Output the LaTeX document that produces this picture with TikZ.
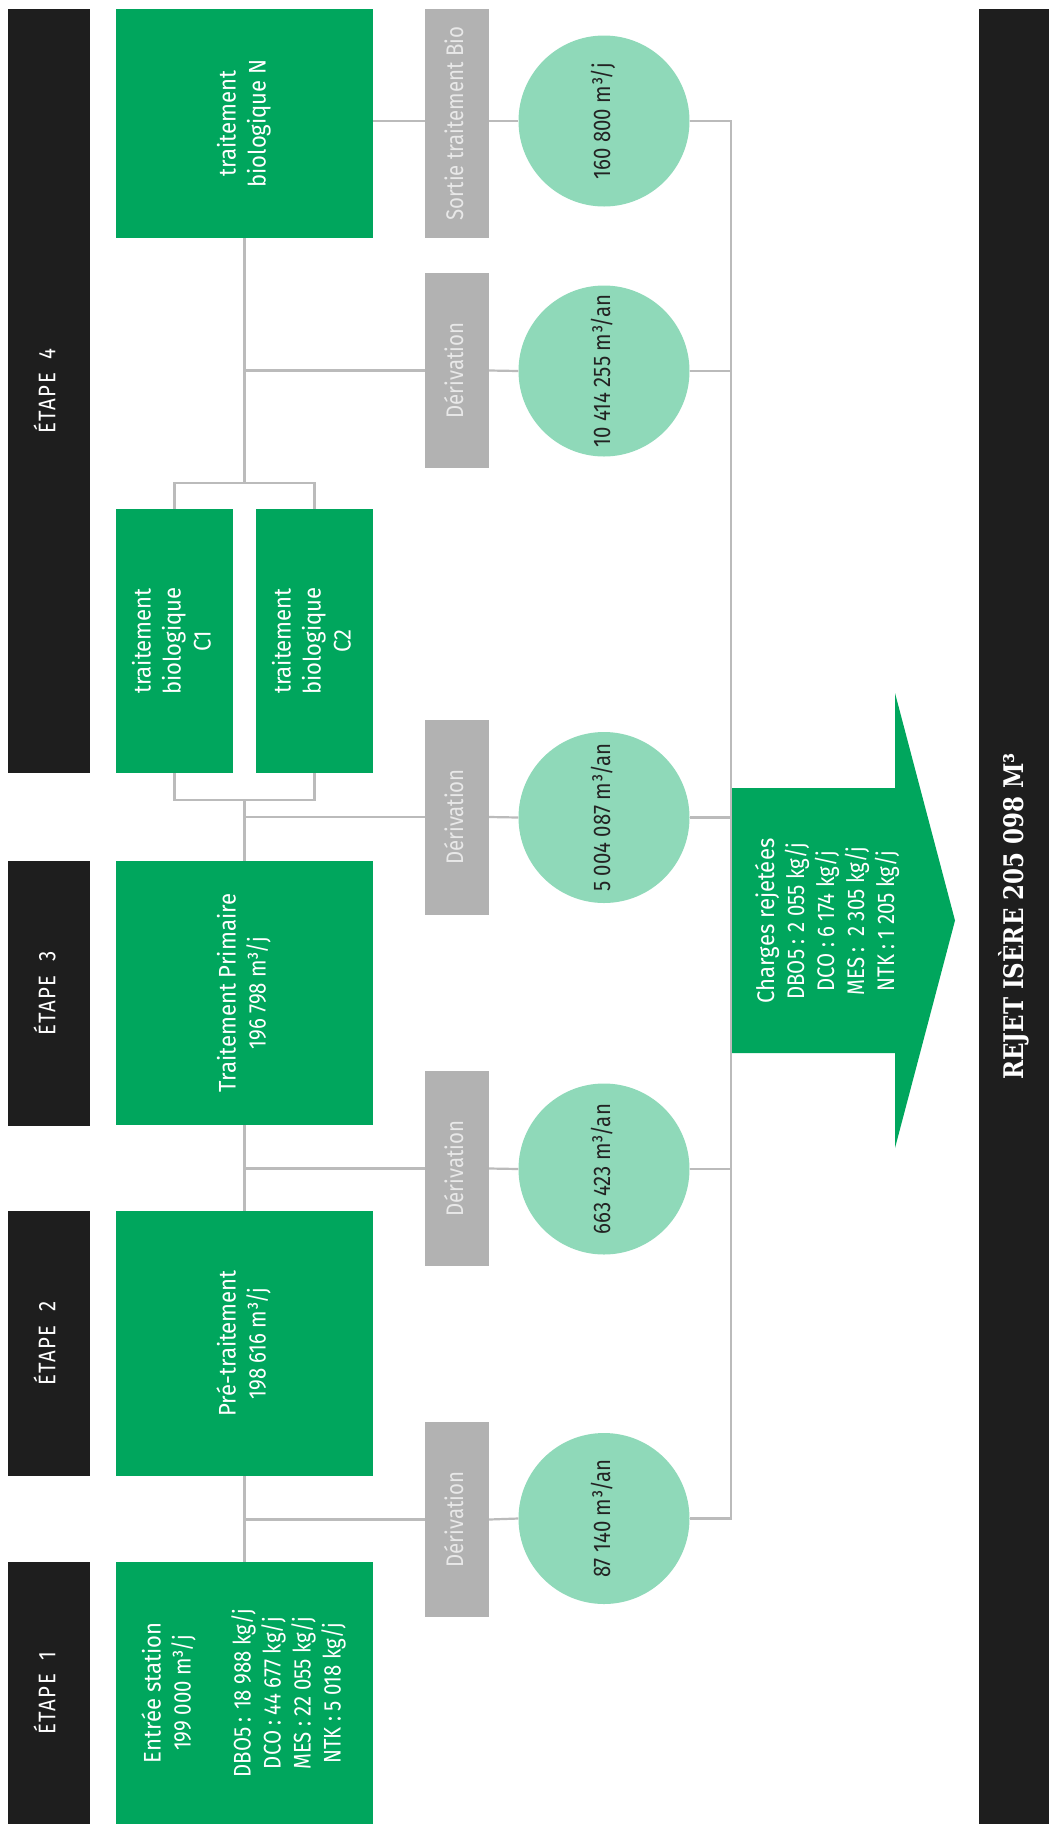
\documentclass[tikz,border=0pt]{standalone}
\usepackage{graphicx}
\usepackage{fontspec}
\setmainfont{Fira Sans}[FakeStretch=0.92]
\newfontfamily\lightf{Fira Sans}[FakeStretch=0.85]
\newfontfamily\slabf{DejaVu Serif}[FakeStretch=0.85]
\usetikzlibrary{positioning}
\definecolor{vert}{RGB}{0,166,93}
\definecolor{menthe}{RGB}{143,217,185}
\definecolor{gris}{RGB}{178,178,178}
\definecolor{gristexte}{RGB}{232,232,232}
\definecolor{noir}{RGB}{30,30,30}
\definecolor{encre}{RGB}{35,35,35}
\definecolor{trait}{RGB}{187,187,187}
\newcommand{\vtxt}[1]{\rotatebox{90}{\begin{tabular}{@{}c@{}}#1\end{tabular}}}
\begin{document}
\begin{tikzpicture}[x=1pt,y=-1pt,
    ligne/.style={draw=trait, line width=2.2pt},
    etape/.style={fill=noir, text=white, inner sep=0pt, minimum width=82pt, minimum height=265pt, font=\lightf\addfontfeatures{LetterSpace=6}\fontsize{24}{30}\selectfont},
    boite/.style={fill=vert, text=white, inner sep=0pt, minimum width=257pt, minimum height=265pt, font=\fontsize{24}{30}\selectfont},
    derivbox/.style={fill=gris, text=gristexte, inner sep=0pt, minimum width=64pt, minimum height=195pt, font=\lightf\fontsize{24}{30}\selectfont},
    debit/.style={circle, fill=menthe, text=encre, inner sep=0pt, minimum size=171pt, font=\lightf\fontsize{24}{30}\selectfont}]
    \useasboundingbox (0,0) rectangle (1049,1824);
    \node[etape, minimum height=764pt] (e4) at (49,391) {\vtxt{ÉTAPE\ \ 4}};
    \node[etape] (e3) at (49,993.5) {\vtxt{ÉTAPE\ \ 3}};
    \node[etape] (e2) at (49,1343.5) {\vtxt{ÉTAPE\ \ 2}};
    \node[etape, minimum height=262pt] (e1) at (49,1693) {\vtxt{ÉTAPE\ \ 1}};
    \node[boite, minimum height=229pt] (bioN) at (244.5,123.5) {\vtxt{traitement\\biologique N}};
    \node[boite, minimum width=117pt, minimum height=264pt] (bioC1) at (174.5,641) {\vtxt{traitement\\biologique\\C1}};
    \node[boite, minimum width=117pt, minimum height=264pt] (bioC2) at (314.5,641) {\vtxt{traitement\\biologique\\C2}};
    \node[boite, minimum height=264pt] (primaire) at (244.5,993) {\vtxt{Traitement Primaire\\{\lightf 196 798 m³/j}}};
    \node[boite] (pretrait) at (244.5,1343.5) {\vtxt{Pré-traitement\\{\lightf 198 616 m³/j}}};
    \node[boite, minimum height=262pt] (entree) at (244.5,1693) {\vtxt{Entrée station\\{\lightf 199 000 m³/j}\\ \\{\lightf DBO5 : 18 988 kg/j}\\{\lightf DCO : 44 677 kg/j}\\{\lightf MES : 22 055 kg/j}\\{\lightf NTK : 5 018 kg/j}}};
    \node[derivbox, minimum height=229pt] (sortie) at (457,123.5) {\vtxt{Sortie traitement Bio}};
    \node[derivbox] (deriv4) at (457,370.5) {\vtxt{Dérivation}};
    \node[derivbox] (deriv3) at (457,817) {\vtxt{Dérivation}};
    \node[derivbox] (deriv2) at (457,1168.5) {\vtxt{Dérivation}};
    \node[derivbox] (deriv1) at (457,1519.5) {\vtxt{Dérivation}};
    \node[debit] (debit5) at (604,121) {\vtxt{160 800 m³/j}};
    \node[debit] (debit4) at (604,371) {\vtxt{10 414 255 m³/an}};
    \node[debit] (debit3) at (604,817.5) {\vtxt{5 004 087 m³/an}};
    \node[debit] (debit2) at (604,1169) {\vtxt{663 423 m³/an}};
    \node[debit] (debit1) at (604,1518.5) {\vtxt{87 140 m³/an}};
    \fill[vert] (732,788) -- (895,788) -- (895,693) -- (955,920.5) -- (895,1148) -- (895,1053) -- (732,1053) -- cycle;
    \node[text=white, font=\fontsize{24}{30}\selectfont] (charges) at (828,921) {\vtxt{Charges rejetées\\{\lightf DBO5 : 2 055 kg/j}\\{\lightf DCO : 6 174 kg/j}\\{\lightf MES :\ \ 2 305 kg/j}\\{\lightf NTK : 1 205 kg/j}}};
    \node[fill=noir, text=white, inner sep=0pt, minimum width=70pt, minimum height=1815pt, font=\slabf\bfseries\fontsize{27}{30}\selectfont] (rejet) at (1014,916.5) {\rotatebox{90}{REJET ISÈRE 205 098 M³}};
    \coordinate (fourchH) at (244.5,483);
    \coordinate (fourchB) at (244.5,800);
    \coordinate (haut) at (731,121);
    \coordinate (bas) at (731,1518.5);
    \draw[ligne] (bioN.south) -- (fourchH);
    \draw[ligne] (bioC1.north) |- (fourchH) -| (bioC2.north);
    \draw[ligne] (bioC1.south) |- (fourchB) -| (bioC2.south);
    \draw[ligne] (fourchB) -- (primaire.north);
    \draw[ligne] (primaire.south) -- (pretrait.north);
    \draw[ligne] (pretrait.south) -- (entree.north);
    \draw[ligne] (bioN.east |- debit5) -- (sortie.west |- debit5);
    \draw[ligne] (sortie.east |- debit5) -- (debit5.west);
    \draw[ligne] (bioN.south |- deriv4.west) -- (deriv4.west);
    \draw[ligne] (fourchB |- deriv3.west) -- (deriv3.west);
    \draw[ligne] (primaire.south |- deriv2.west) -- (deriv2.west);
    \draw[ligne] (pretrait.south |- deriv1.west) -- (deriv1.west);
    \foreach \n in {1,2,3,4}
        \draw[ligne] (deriv\n.east) -- (debit\n.west);
    \foreach \n in {2,3,4}
        \draw[ligne] (debit\n.east) -- (debit\n.east -| haut);
    \draw[ligne] (debit5.east) -- (haut) -- (bas) -- (debit1.east);
\end{tikzpicture}
\end{document}
